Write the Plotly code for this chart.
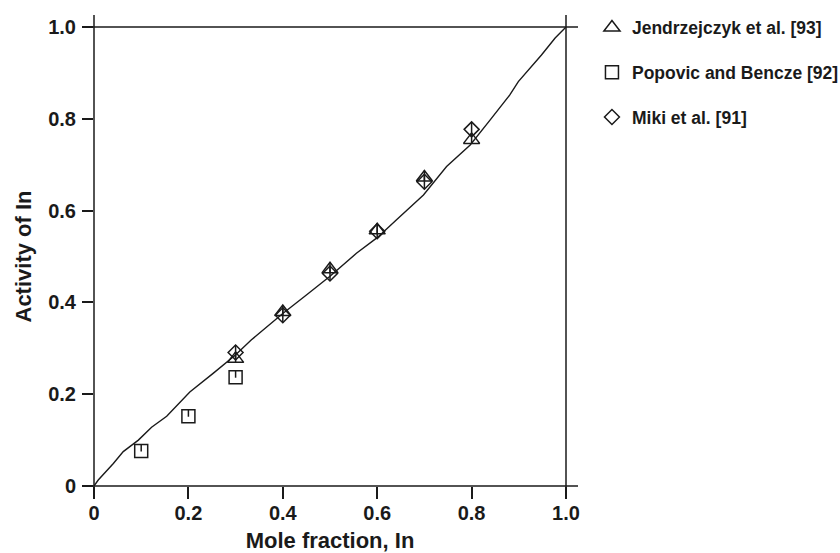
import plotly.graph_objects as go

# ---- data ----
curve_x = [0, 0.009, 0.041, 0.062, 0.094, 0.122, 0.154, 0.203, 0.253, 0.299, 0.333,
           0.4, 0.45, 0.5, 0.556, 0.6, 0.641, 0.698, 0.747, 0.797, 0.839, 0.862,
           0.881, 0.899, 0.924, 0.948, 0.977, 1.0]
curve_y = [0, 0.013, 0.049, 0.075, 0.100, 0.128, 0.152, 0.205, 0.246, 0.285, 0.318,
           0.376, 0.416, 0.457, 0.507, 0.541, 0.580, 0.634, 0.696, 0.743, 0.797, 0.826,
           0.852, 0.881, 0.910, 0.939, 0.976, 1.0]

jend_x = [0.3, 0.4, 0.5, 0.6, 0.7, 0.8]
jend_y = [0.277, 0.379, 0.472, 0.557, 0.672, 0.754]

popo_x = [0.1, 0.2, 0.3]
popo_y = [0.076, 0.152, 0.237]

miki_x = [0.3, 0.4, 0.5, 0.6, 0.7, 0.8]
miki_y = [0.291, 0.372, 0.463, 0.555, 0.663, 0.777]

tick_vals = [0, 0.2, 0.4, 0.6, 0.8, 1.0]
tick_text = ["0", "0.2", "0.4", "0.6", "0.8", "1.0"]

names = ["Jendrzejczyk et al. [93]", "Popovic and Bencze [92]", "Miki et al. [91]"]

# ---- style ----
INK = "#1a1a1a"
FONT = "Liberation Sans, Arial, Helvetica, sans-serif"
PX_Y = 459.0  # pixels per unit on y

fig = go.Figure()

fig.add_trace(go.Scatter(x=curve_x, y=curve_y, mode="lines",
                         line=dict(color=INK, width=1.4), showlegend=False,
                         hoverinfo="skip"))

tri_r = 7.0
fig.add_trace(go.Scatter(
    x=jend_x, y=jend_y, mode="markers", name=names[0], legendgroup="a",
    marker=dict(symbol="triangle-up-open", size=2 * tri_r, color=INK,
                line=dict(color=INK, width=1.5)),
    error_y=dict(type="constant", symmetric=False, value=tri_r / PX_Y,
                 valueminus=(tri_r / 2) / PX_Y, width=0, thickness=1.5, color=INK)))

sq_size = 13
fig.add_trace(go.Scatter(
    x=popo_x, y=popo_y, mode="markers", name=names[1], legendgroup="b",
    marker=dict(symbol="square-open", size=sq_size, color=INK,
                line=dict(color=INK, width=1.5)),
    error_y=dict(type="constant", symmetric=False, value=(sq_size / 2) / PX_Y,
                 valueminus=0.5 / PX_Y, width=0, thickness=1.5, color=INK)))

dia_size = 11.5
fig.add_trace(go.Scatter(
    x=miki_x, y=miki_y, mode="markers", name=names[2], legendgroup="c",
    marker=dict(symbol="diamond-open", size=dia_size, color=INK,
                line=dict(color=INK, width=1.5)),
    error_y=dict(type="constant", symmetric=True, value=(dia_size * 0.65) / PX_Y,
                 width=0, thickness=1.5, color=INK)))

ext_x = 12 / 472.0
ext_y = 12 / 459.0
line_style = dict(color=INK, width=1.5)
for sx0, sy0, sx1, sy1 in [(-ext_x, 0, 1 + ext_x, 0), (-ext_x, 1, 1 + ext_x, 1),
                           (0, -ext_y, 0, 1 + ext_y), (1, -ext_y, 1, 1 + ext_y)]:
    fig.add_shape(type="line", xref="paper", yref="paper",
                  x0=sx0, y0=sy0, x1=sx1, y1=sy1, line=line_style, layer="above")

tick_font = dict(family=FONT, size=20, color=INK, weight="bold")
title_font = dict(family=FONT, size=22, color=INK, weight="bold")

fig.update_layout(
    width=840, height=553,
    margin=dict(l=94, r=274, t=27, b=67, autoexpand=False),
    plot_bgcolor="white", paper_bgcolor="white",
    showlegend=True,
    legend=dict(x=1.055, xanchor="left", y=1.038, yanchor="top",
                font=dict(family=FONT, size=17.5, color=INK, weight="bold"),
                tracegroupgap=19, bgcolor="rgba(0,0,0,0)"),
    xaxis=dict(range=[0, 1], tickvals=tick_vals, ticktext=tick_text,
               ticks="outside", ticklen=12, tickwidth=1.5, tickcolor=INK,
               showgrid=False, zeroline=False, showline=False,
               tickfont=tick_font, ticklabelstandoff=-3, automargin=False,
               title=dict(text="Mole fraction, In", font=title_font, standoff=9)),
    yaxis=dict(range=[0, 1], tickvals=tick_vals, ticktext=tick_text,
               ticks="outside", ticklen=11, tickwidth=1.5, tickcolor=INK,
               showgrid=False, zeroline=False, showline=False,
               tickfont=tick_font, ticklabelstandoff=2, automargin=False,
               title=dict(text="Activity of In", font=title_font, standoff=10)),
    yaxis2=dict(range=[0, 1], tickvals=tick_vals, overlaying="y", side="right",
                anchor="x", ticks="outside", ticklen=12, tickwidth=1.5,
                tickcolor=INK, showticklabels=False, showgrid=False,
                zeroline=False, showline=False, automargin=False),
)

fig.write_html("out.html")
